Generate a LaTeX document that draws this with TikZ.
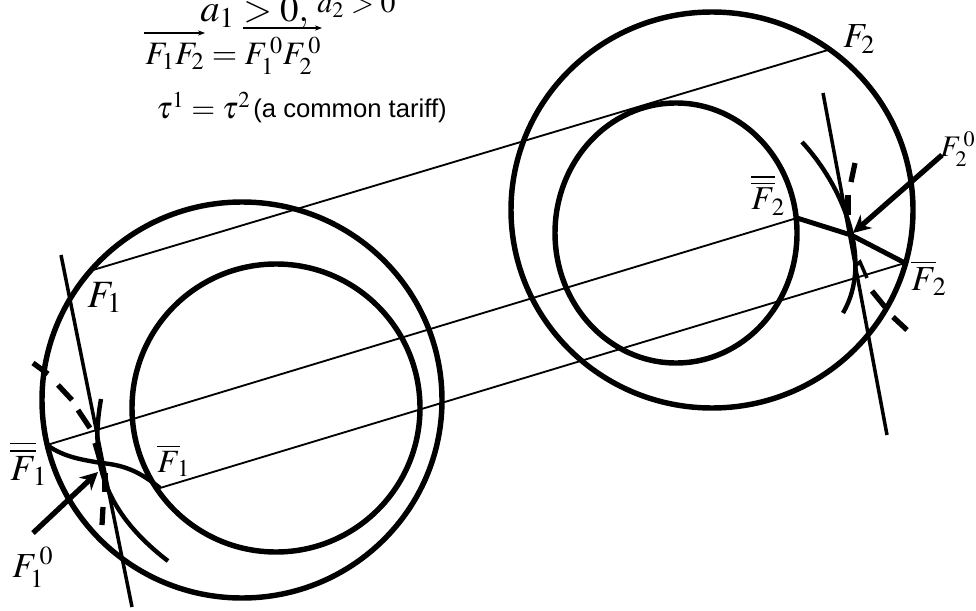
\documentclass[tikz,border=0pt]{standalone}
\usepackage{mathptmx}
\usepackage[no-math]{fontspec}
\setsansfont{Liberation Sans}
\usetikzlibrary{arrows.meta}
\tikzset{
  ring/.style={line width=3.1pt},
  thinline/.style={line width=1.05pt},
  tangent/.style={line width=2pt},
  rivet/.style={line width=2.5pt},
  dashpart/.style={line width=3pt},
  pointer/.style={line width=3pt, -{Stealth[length=10pt,width=10pt]}},
  lab/.style={inner sep=0pt, anchor=base west, font=\fontsize{#1}{#1}\selectfont},
  vecline/.style={line width=0.7pt, -{Stealth[length=4pt,width=3pt]}},
}
\begin{document}
\begin{tikzpicture}[x=0.02cm, y=-0.02cm]
  \useasboundingbox (0,0) rectangle (976,611);
  \clip (0,0) rectangle (976,611);

  % circles
  \draw[ring] (242,400) ellipse (200 and 198);
  \draw[ring] (276,408) circle (144);
  \draw[ring] (712,210) ellipse (201 and 198);
  \draw[ring] (676,233) ellipse (121 and 130);

  \coordinate (Fa) at (93,270);
  \coordinate (Fb) at (828,50);
  \coordinate (Fc) at (47,445);
  \coordinate (Fd) at (797,218);
  \coordinate (Fe) at (160,488);
  \coordinate (Ff) at (905,263);

  \draw[thinline] (Fa) -- (Fb);
  \draw[thinline] (Fc) -- (Fd);
  \draw[thinline] (Fe) -- (Ff);

  % left side
  \coordinate (Pl) at (101,463);
  \draw[tangent] (61,255) -- (132,607);
  \draw[rivet] (101,399) .. controls (92,450) and (95,505) .. (168,561);
  \draw[rivet] (Fc) .. controls (65,458) and (85,460) .. (Pl)
    .. controls (125,465) and (140,472) .. (Fe);
  \draw[dashpart] (33,363) -- (48,374);
  \draw[dashpart] (58,385) -- (72,400);
  \draw[dashpart] (78,410) -- (90,428);
  \draw[dashpart] (95,443) -- (100,460);
  \draw[line width=3.6pt] (105,473) -- (105,492);
  \draw[dashpart] (103,507) -- (102,525);
  \coordinate (Pa) at (33,533);
  \draw[pointer] (Pa) -- (98,472);

  % right side
  \coordinate (Pr) at (851,235);
  \draw[tangent] (823,93) -- (887,435);
  \draw[rivet] (802,142) .. controls (842,185) and (874,260) .. (843,313);
  \draw[line width=2.8pt] (Fd) -- (Pr) -- (Ff);
  \draw[dashpart] (855,163) -- (851,182);
  \draw[line width=3.6pt] (848,195) -- (848,215);
  \draw[dashpart] (872,291) -- (885,307);
  \draw[dashpart] (893,317) -- (907,330);
  \coordinate (Pb) at (942,155);
  \draw[pointer] (Pb) -- (853,233);
  \draw[line width=2pt] (855,266) -- (860,262) -- (867,278);

  % labels
  \node[lab=22] (lF1) at (87,307) {$F_1$};
  \node[lab=20] (lF2) at (843,48) {$F_2$};
  \node[lab=18.5] (lF1b) at (157,472) {$\overline{F}_{\!1}$};
  \node[lab=20] (lF2b) at (911,290) {$\overline{F}_{\!2}$};
  \node[lab=21] (lF1bb) at (10,480) {$\overline{\overline{F}}_{\!1}$};
  \node[lab=19] (lF2bb) at (751,210) {$\overline{\overline{F}}_{\!2}$};
  \node[lab=20] (lF10) at (12,577) {$F_1^{\,0}$};
  \node[lab=17] (lF20) at (940,157) {$F_2^{\,0}$};

  \node[lab=22] (topa) at (200,22) {$a_1$};
  \node[lab=21] (topb) at (243,22) {$>0,$};
  \node[lab=17] (topc) at (317,13) {$a_2>0$};
  \node[lab=18.6] (eqn) at (145,65) {$F_1F_2=F_1^{\,0}F_2^{\,0}$};
  \draw[vecline] (144,33) -- (205,33);
  \draw[vecline] (243,28) -- (322,28);
  \node[lab=17.5] (tau) at (156,119) {$\tau^{1}=\tau^{2}$};
  \node[inner sep=0pt, anchor=base west, font=\sffamily\fontsize{14.6}{17}\selectfont] (note) at (253,118) {(a common tariff)};
\end{tikzpicture}
\end{document}
